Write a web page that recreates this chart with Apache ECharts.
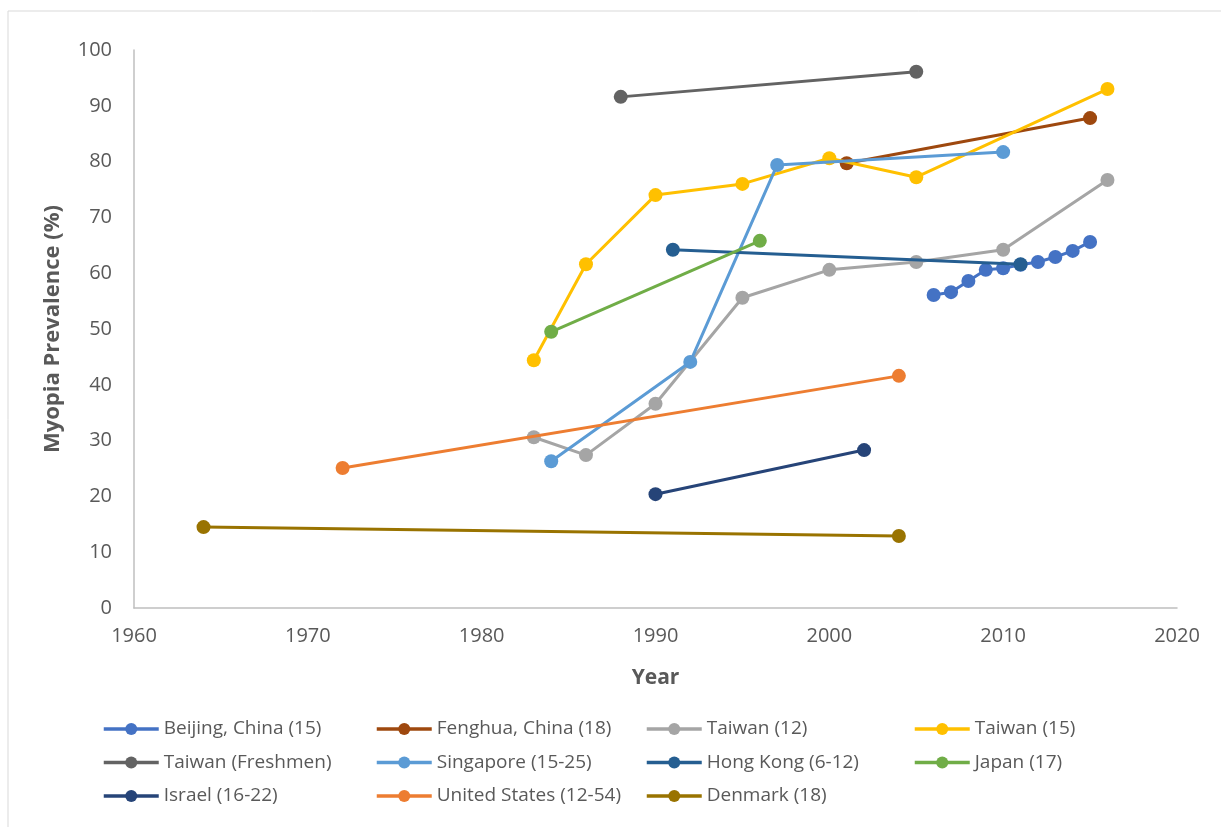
<!DOCTYPE html>
<html>
<head>
<meta charset="utf-8">
<title>Myopia Prevalence</title>
<script src="https://cdn.jsdelivr.net/npm/echarts@6/dist/echarts.min.js"></script>
<style>
  html, body { margin: 0; padding: 0; background: #fff; }
  #chart { width: 1221px; height: 827px; }
</style>
</head>
<body>
<div id="chart"></div>
<script>
// Survey years and myopia prevalence (%) per population
const beijingYears = [2006, 2007, 2008, 2009, 2010, 2011, 2012, 2013, 2014, 2015];
const beijingValues = [56.1, 56.6, 58.6, 60.6, 60.9, 61.5, 62.0, 62.9, 64.0, 65.6];

const fenghuaYears = [2001, 2015];
const fenghuaValues = [79.7, 87.8];

const taiwan12Years = [1983, 1986, 1990, 1995, 2000, 2005, 2010, 2016];
const taiwan12Values = [30.6, 27.4, 36.6, 55.6, 60.6, 62.0, 64.2, 76.7];

const taiwan15Years = [1983, 1986, 1990, 1995, 2000, 2005, 2016];
const taiwan15Values = [44.4, 61.6, 74.0, 76.0, 80.6, 77.2, 93.0];

const freshmenYears = [1988, 2005];
const freshmenValues = [91.6, 96.1];

const singaporeYears = [1984, 1992, 1997, 2010];
const singaporeValues = [26.3, 44.1, 79.4, 81.7];

const hongKongYears = [1991, 2011];
const hongKongValues = [64.2, 61.6];

const japanYears = [1984, 1996];
const japanValues = [49.5, 65.8];

const israelYears = [1990, 2002];
const israelValues = [20.4, 28.3];

const usYears = [1972, 2004];
const usValues = [25.1, 41.6];

const denmarkYears = [1964, 2004];
const denmarkValues = [14.5, 12.9];

const seriesNames = [
  'Beijing, China (15)', 'Fenghua, China (18)', 'Taiwan (12)', 'Taiwan (15)',
  'Taiwan (Freshmen)', 'Singapore (15-25)', 'Hong Kong (6-12)', 'Japan (17)',
  'Israel (16-22)', 'United States (12-54)', 'Denmark (18)'
];
const seriesColors = [
  '#4472C4', '#9E480E', '#A5A5A5', '#FFC000',
  '#636363', '#5B9BD5', '#255E91', '#70AD47',
  '#264478', '#ED7D31', '#997300'
];
const seriesYears = [beijingYears, fenghuaYears, taiwan12Years, taiwan15Years,
  freshmenYears, singaporeYears, hongKongYears, japanYears,
  israelYears, usYears, denmarkYears];
const seriesValues = [beijingValues, fenghuaValues, taiwan12Values, taiwan15Values,
  freshmenValues, singaporeValues, hongKongValues, japanValues,
  israelValues, usValues, denmarkValues];

const xTicks = [1960, 1970, 1980, 1990, 2000, 2010, 2020];
const yTicks = [0, 10, 20, 30, 40, 50, 60, 70, 80, 90, 100];

const textColor = '#595959';
const fontFamily = '"Open Sans", "Noto Sans", sans-serif';

const series = seriesNames.map((name, i) => ({
  name: name,
  type: 'line',
  data: seriesYears[i].map((y, k) => [y, seriesValues[i][k]]),
  symbol: 'circle',
  symbolSize: 14,
  lineStyle: { width: 3, color: seriesColors[i] },
  itemStyle: { color: seriesColors[i] },
  emphasis: { disabled: true },
  animation: false,
  z: 2 + i
}));

// Legend in four columns, three rows
const columns = [
  { left: 97, names: [seriesNames[0], seriesNames[4], seriesNames[8]] },
  { left: 370, names: [seriesNames[1], seriesNames[5], seriesNames[9]] },
  { left: 640, names: [seriesNames[2], seriesNames[6], seriesNames[10]] },
  { left: 908, names: [seriesNames[3], seriesNames[7]] }
];
const legends = columns.map(c => ({
  orient: 'vertical',
  left: c.left,
  top: 713,
  data: c.names,
  itemWidth: 55,
  itemHeight: 15,
  itemGap: 11.5,
  selectedMode: false,
  lineStyle: { width: 3.5 },
  textStyle: { color: textColor, fontSize: 19, lineHeight: 22, fontFamily: fontFamily }
}));

const chart = echarts.init(document.getElementById('chart'), null, { renderer: 'canvas' });
chart.setOption({
  backgroundColor: '#ffffff',
  animation: false,
  color: seriesColors,
  graphic: [{
    type: 'rect',
    shape: { x: 8, y: 11, width: 1240, height: 840 },
    style: { fill: null, stroke: '#D9D9D9', lineWidth: 1 },
    silent: true,
    z: 0
  }],
  legend: legends,
  grid: { left: 134, right: 44, top: 50, bottom: 219, containLabel: false },
  xAxis: {
    type: 'value',
    min: xTicks[0],
    max: xTicks[xTicks.length - 1],
    interval: 10,
    name: 'Year',
    nameLocation: 'middle',
    nameGap: 60,
    nameTextStyle: { color: textColor, fontSize: 21, fontWeight: 'bold', fontFamily: fontFamily },
    axisLine: { show: true, lineStyle: { color: '#BFBFBF', width: 1.5 } },
    axisTick: { show: false },
    splitLine: { show: false },
    axisLabel: { color: textColor, fontSize: 20, margin: 18, fontFamily: fontFamily, formatter: v => String(v) }
  },
  yAxis: {
    type: 'value',
    min: yTicks[0],
    max: yTicks[yTicks.length - 1],
    interval: 10,
    name: 'Myopia Prevalence (%)',
    nameLocation: 'middle',
    nameGap: 70,
    nameRotate: 90,
    nameTextStyle: { color: textColor, fontSize: 22, fontWeight: 'bold', fontFamily: fontFamily },
    axisLine: { show: true, lineStyle: { color: '#BFBFBF', width: 1.5 } },
    axisTick: { show: false },
    splitLine: { show: false },
    axisLabel: { color: textColor, fontSize: 20, margin: 22, fontFamily: fontFamily }
  },
  series: series
});
</script>
</body>
</html>
